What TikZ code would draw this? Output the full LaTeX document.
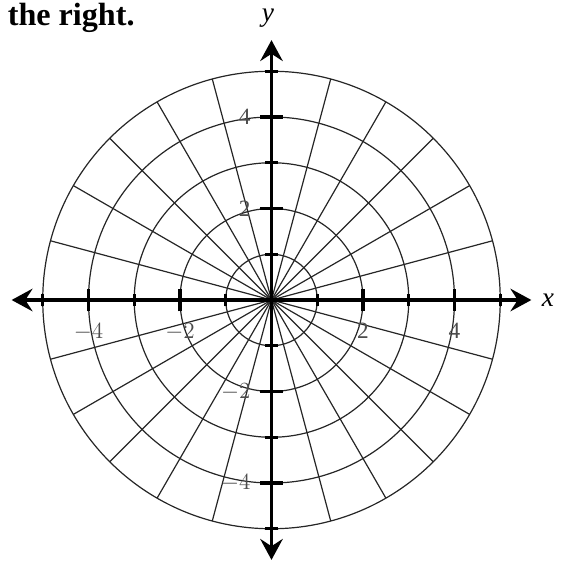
\documentclass[tikz,border=0pt]{standalone}
\usepackage{fontspec}
\setmainfont{Liberation Serif}
\usetikzlibrary{arrows.meta,positioning}

\begin{document}
\begin{tikzpicture}[x=1cm,y=1cm]
\pgfmathsetmacro{\rmax}{5}
\pgfmathsetmacro{\ax}{5.68}
\pgfmathsetmacro{\lo}{0.25}
\pgfmathsetmacro{\sh}{0.14}

\useasboundingbox (-5.934,-5.727) rectangle (6.437,6.557);

\tikzset{
gridline/.style={line width=0.75pt,black!85},
axisline/.style={line width=2.1pt,{Stealth[length=13pt,width=14pt,inset=4.5pt]}-{Stealth[length=13pt,width=14pt,inset=4.5pt]}},
tickline/.style={line width=2.1pt},
ticklabel/.style={inner sep=0pt,font=\fontsize{14.5}{16}\selectfont,text=black!70}
}

% polar grid
\foreach \r in {1,...,5} {
\draw[gridline] (0,0) circle (\r);
}
\foreach \a in {0,15,...,345} {
\draw[gridline] (0,0) -- (\a:\rmax);
}

% axes
\coordinate (xl) at (-\ax,0);
\coordinate (xr) at (\ax,0);
\coordinate (yb) at (0,-\ax);
\coordinate (yt) at (0,\ax);
\draw[axisline] (xl) -- (xr);
\draw[axisline] (yb) -- (yt);

% ticks
\foreach \i in {-5,-3,-1,1,3,5} {
\draw[tickline] (\i,-\sh)--(\i,\sh);
\draw[tickline] (-\sh,\i)--(\sh,\i);
}
\foreach \i in {-4,-2,2,4} {
\draw[tickline] (\i,-\lo)--(\i,\lo);
\draw[tickline] (-\lo,\i)--(\lo,\i);
}

% labels
\foreach \i/\t in {-4/$-4$,-2/$-2$,2/2,4/4} {
\node[ticklabel,anchor=north] (xt\i) at (\i,-0.5) {\t};
\node[ticklabel,anchor=east] (yt\i) at (-0.45,\i) {\t};
}
\node[font=\fontsize{17}{19}\selectfont,anchor=west,inner sep=0pt] (xname) at (5.9,0) {\textit{x}};
\node[font=\fontsize{17}{19}\selectfont,inner sep=0pt] (yname) at (-0.08,6.15) {\textit{y}};

\node[font=\fontsize{20}{22}\selectfont\bfseries,anchor=base west,inner sep=0pt] (title) at (-5.77,5.99) {the right.};
\end{tikzpicture}
\end{document}
